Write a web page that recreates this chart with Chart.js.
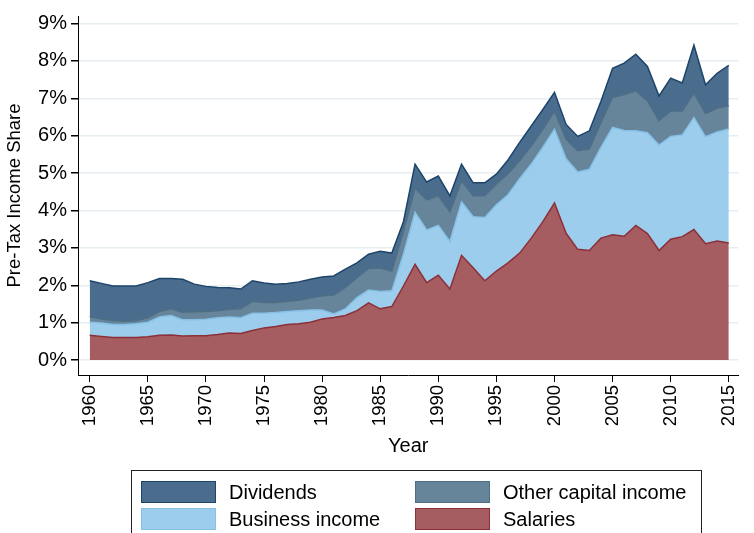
<!DOCTYPE html>
<html>
<head>
<meta charset="utf-8">
<script src="https://cdn.jsdelivr.net/npm/chart.js@4.4.0/dist/chart.umd.min.js"></script>
<style>
  html, body { margin: 0; padding: 0; background: #fff; }
  #wrap { position: relative; width: 754px; height: 533px; overflow: hidden; font-family: 'Liberation Sans', Arial, sans-serif; }
  #legend { position: absolute; left: 131px; top: 470px; width: 571px; height: 80px; border: 1px solid #222; box-sizing: border-box; }
  .item { position: absolute; height: 22px; line-height: 22px; font-size: 20px; color: #000; }
  .sw { position: absolute; left: 0; top: 0; width: 73px; height: 20px; border: 1px solid; }
  .item span { position: absolute; left: 88px; top: 0; white-space: nowrap; }
</style>
</head>
<body>
<div id="wrap">
  <canvas id="myChart" width="754" height="533"></canvas>
  <div id="legend"></div>
</div>
<script>
// years on the x axis
const years = [1960, 1961, 1962, 1963, 1964, 1965, 1966, 1967, 1968, 1969,
  1970, 1971, 1972, 1973, 1974, 1975, 1976, 1977, 1978, 1979,
  1980, 1981, 1982, 1983, 1984, 1985, 1986, 1987, 1988, 1989,
  1990, 1991, 1992, 1993, 1994, 1995, 1996, 1997, 1998, 1999,
  2000, 2001, 2002, 2003, 2004, 2005, 2006, 2007, 2008, 2009,
  2010, 2011, 2012, 2013, 2014, 2015];

// share of pre-tax income (%), each band
const salaries = [0.66, 0.63, 0.60, 0.60, 0.60, 0.62, 0.66, 0.67, 0.64, 0.65,
  0.65, 0.68, 0.72, 0.71, 0.79, 0.86, 0.90, 0.95, 0.97, 1.01,
  1.10, 1.14, 1.19, 1.32, 1.53, 1.37, 1.43, 1.98, 2.56, 2.07,
  2.27, 1.90, 2.80, 2.47, 2.12, 2.38, 2.60, 2.86, 3.26, 3.70,
  4.20, 3.39, 2.96, 2.93, 3.26, 3.35, 3.31, 3.60, 3.38, 2.93,
  3.23, 3.30, 3.49, 3.11, 3.18, 3.13];
const businessIncome = [0.35, 0.36, 0.35, 0.35, 0.37, 0.39, 0.49, 0.52, 0.44, 0.43,
  0.44, 0.45, 0.43, 0.42, 0.46, 0.39, 0.37, 0.35, 0.35, 0.33,
  0.24, 0.09, 0.18, 0.35, 0.34, 0.46, 0.42, 0.85, 1.39, 1.41,
  1.33, 1.27, 1.43, 1.36, 1.69, 1.77, 1.82, 1.99, 1.98, 1.99,
  1.97, 1.99, 2.07, 2.17, 2.43, 2.87, 2.83, 2.53, 2.70, 2.82,
  2.75, 2.72, 2.99, 2.86, 2.92, 3.05];
const otherCapital = [0.15, 0.11, 0.11, 0.09, 0.09, 0.12, 0.15, 0.18, 0.20, 0.21,
  0.21, 0.19, 0.21, 0.24, 0.32, 0.29, 0.27, 0.27, 0.28, 0.32,
  0.38, 0.51, 0.57, 0.53, 0.58, 0.63, 0.53, 0.61, 0.65, 0.80,
  0.79, 0.80, 0.56, 0.56, 0.58, 0.56, 0.56, 0.48, 0.49, 0.48,
  0.49, 0.52, 0.57, 0.54, 0.66, 0.81, 0.96, 1.07, 0.85, 0.65,
  0.68, 0.64, 0.66, 0.62, 0.64, 0.62];
const dividends = [0.96, 0.95, 0.92, 0.94, 0.92, 0.94, 0.88, 0.81, 0.88, 0.74,
  0.67, 0.62, 0.57, 0.53, 0.55, 0.52, 0.49, 0.48, 0.49, 0.50,
  0.50, 0.51, 0.49, 0.40, 0.38, 0.45, 0.48, 0.26, 0.64, 0.48,
  0.53, 0.42, 0.45, 0.35, 0.35, 0.26, 0.37, 0.49, 0.53, 0.53,
  0.50, 0.40, 0.38, 0.49, 0.57, 0.77, 0.84, 0.98, 0.92, 0.66,
  0.88, 0.75, 1.28, 0.77, 0.93, 1.08];

const xTicks = [1960, 1965, 1970, 1975, 1980, 1985, 1990, 1995, 2000, 2005, 2010, 2015];
const yTicks = [0, 1, 2, 3, 4, 5, 6, 7, 8, 9];

// bottom to top
const series = [
  { label: "Salaries", data: salaries, fill: "#a65d61", line: "#8c2f38" },
  { label: "Business income", data: businessIncome, fill: "#9ccdec", line: "#86c0e6" },
  { label: "Other capital income", data: otherCapital, fill: "#66849a", line: "#4e6e86" },
  { label: "Dividends", data: dividends, fill: "#4a6d8e", line: "#1d446a" },
];

Chart.defaults.font.family = "'Liberation Sans', Arial, sans-serif";
Chart.defaults.color = "#000";

new Chart(document.getElementById("myChart"), {
  type: "line",
  data: {
    datasets: series.map((s, i) => ({
      label: s.label,
      data: years.map((yr, k) => ({ x: yr, y: s.data[k] })),
      backgroundColor: s.fill,
      borderColor: s.line,
      borderWidth: 1.5,
      pointRadius: 0,
      tension: 0,
      fill: i === 0 ? "origin" : "-1",
    })),
  },
  options: {
    responsive: false,
    animation: false,
    layout: { padding: { left: 0, right: 2, top: 12, bottom: 71 } },
    plugins: {
      legend: { display: false },
      tooltip: { enabled: false },
    },
    scales: {
      x: {
        type: "linear",
        min: 1958.99,
        max: 2015.84,
        afterBuildTicks: (axis) => { axis.ticks = xTicks.map((v) => ({ value: v })); },
        afterFit: (axis) => { axis.height = 87; },
        ticks: {
          autoSkip: false,
          minRotation: 90,
          maxRotation: 90,
          padding: 3,
          font: { size: 18.5 },
          callback: (v) => String(v),
        },
        grid: { drawOnChartArea: false, drawTicks: true, tickLength: 7, tickColor: "#000" },
        border: { color: "#000", width: 1 },
        title: { display: true, text: "Year", font: { size: 20 }, padding: { top: 0, bottom: 4 } },
      },
      y: {
        stacked: true,
        min: -0.4,
        max: 9.2,
        afterBuildTicks: (axis) => { axis.ticks = yTicks.map((v) => ({ value: v })); },
        afterFit: (axis) => { axis.width = 78; },
        ticks: {
          padding: 4,
          font: { size: 20 },
          callback: (v) => v + "%",
        },
        grid: { color: "#e6eef2", lineWidth: 1.5, tickLength: 7, tickColor: "#000" },
        border: { color: "#000", width: 1 },
        title: { display: true, text: "Pre-Tax Income Share", font: { size: 18.5 }, padding: { top: 4, bottom: 0 } },
      },
    },
  },
});

// legend: 2 columns, Dividends / Other capital income on top
const legendOrder = [3, 2, 1, 0];
const legendPos = [[9, 10], [283, 10], [9, 37], [283, 37]];
const legendEl = document.getElementById("legend");
legendOrder.forEach((idx, k) => {
  const s = series[idx];
  const item = document.createElement("div");
  item.className = "item";
  item.style.left = legendPos[k][0] + "px";
  item.style.top = legendPos[k][1] + "px";
  item.innerHTML = `<div class="sw" style="background:${s.fill};border-color:${s.line}"></div><span>${s.label}</span>`;
  legendEl.appendChild(item);
});
</script>
</body>
</html>
